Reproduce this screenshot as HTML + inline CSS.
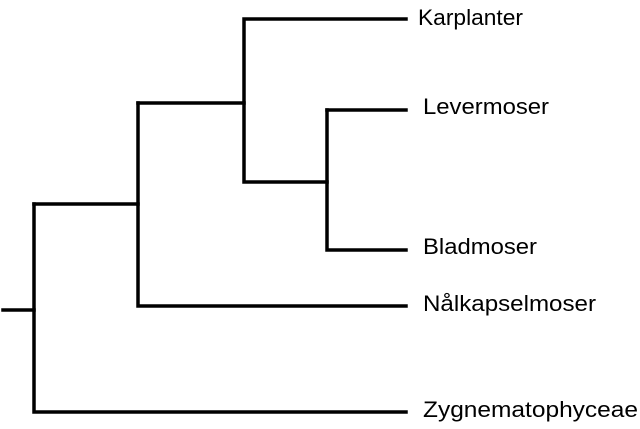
<!DOCTYPE html>
<html><head><style>html,body{margin:0;padding:0;background:#fff;}</style></head>
<body>
<svg width="640" height="424" viewBox="0 0 640 424" xmlns="http://www.w3.org/2000/svg">
<g stroke="#000" stroke-width="3.5" fill="none" stroke-linecap="square">
<path d="M3 310 H34"/>
<path d="M34 204 V412 H406"/>
<path d="M34 204 H138 V306 H406"/>
<path d="M138 103 V204"/>
<path d="M138 103 H244 V19 H406"/>
<path d="M244 103 V182 H327"/>
<path d="M327 110 V250 H406"/>
<path d="M327 110 H406"/>
</g>
<g font-family="Liberation Sans, sans-serif" font-size="22" fill="#000">
<text x="418" y="25" textLength="105" lengthAdjust="spacingAndGlyphs">Karplanter</text>
<text x="423" y="114" textLength="126" lengthAdjust="spacingAndGlyphs">Levermoser</text>
<text x="423" y="254" textLength="114" lengthAdjust="spacingAndGlyphs">Bladmoser</text>
<text x="423" y="311" textLength="173" lengthAdjust="spacingAndGlyphs">Nålkapselmoser</text>
<text x="423" y="417" textLength="215" lengthAdjust="spacingAndGlyphs">Zygnematophyceae</text>
</g>
</svg>
</body></html>
